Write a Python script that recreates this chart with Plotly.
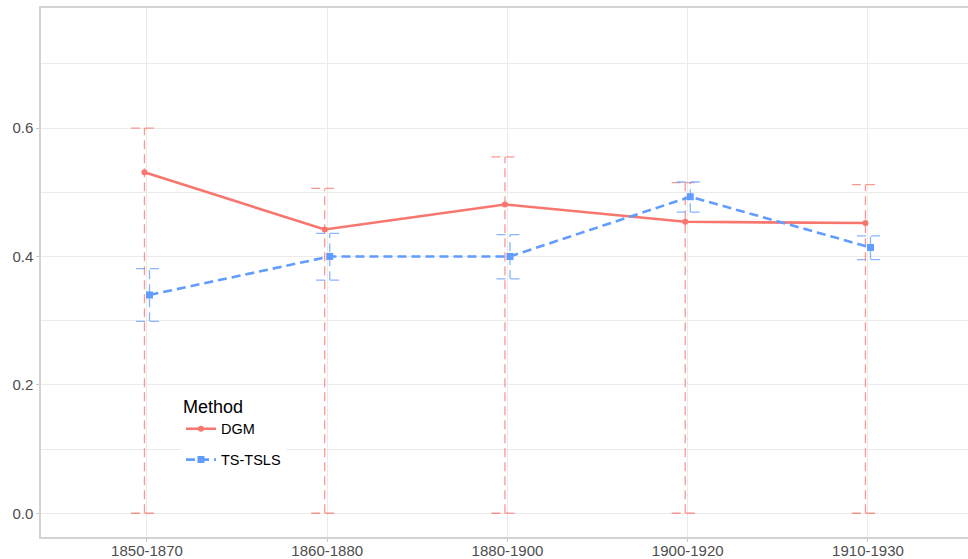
import plotly.graph_objects as go

periods = ["1850-1870", "1860-1880", "1880-1900", "1900-1920", "1910-1930"]

dgm_est = [0.531, 0.442, 0.481, 0.454, 0.452]
dgm_low = [0.0, 0.0, 0.0, 0.0, 0.0]
dgm_high = [0.600, 0.506, 0.555, 0.515, 0.512]

ts_est = [0.340, 0.400, 0.400, 0.493, 0.414]
ts_low = [0.299, 0.363, 0.365, 0.469, 0.395]
ts_high = [0.381, 0.436, 0.434, 0.516, 0.432]

red = "#F8766D"
blue = "#619CFF"
dodge = 0.014
cap = 0.075


def bar_path(xs, lo, hi):
    # vertical whisker plus two caps, separated by None
    px, py = [], []
    for x, l, h in zip(xs, lo, hi):
        px += [x, x, None, x - cap, x + cap, None, x - cap, x + cap, None]
        py += [l, h, None, l, l, None, h, h, None]
    return px, py


x_dgm = [i - dodge for i in range(len(periods))]
x_ts = [i + dodge for i in range(len(periods))]

fig = go.Figure()

ex, ey = bar_path(x_dgm, dgm_low, dgm_high)
fig.add_trace(go.Scatter(x=ex, y=ey, mode="lines", showlegend=False, hoverinfo="skip",
                         line=dict(color="rgba(248,118,109,0.75)", width=1.3, dash="9px,5px")))
ex, ey = bar_path(x_ts, ts_low, ts_high)
fig.add_trace(go.Scatter(x=ex, y=ey, mode="lines", showlegend=False, hoverinfo="skip",
                         line=dict(color="rgba(97,156,255,0.75)", width=1.3, dash="9px,5px")))

fig.add_trace(go.Scatter(x=x_dgm, y=dgm_est, mode="lines+markers", name="DGM", legendgroup="a",
                         line=dict(color=red, width=2.6),
                         marker=dict(color=red, size=6, symbol="circle")))
fig.add_trace(go.Scatter(x=x_ts, y=ts_est, mode="lines+markers", name="TS-TSLS", legendgroup="b",
                         line=dict(color=blue, width=2.6, dash="9px,5px"),
                         marker=dict(color=blue, size=7, symbol="square")))

fig.update_layout(
    width=968, height=559,
    margin=dict(l=41, r=0, t=8, b=22),
    plot_bgcolor="white", paper_bgcolor="white",
    font=dict(family="Liberation Sans, Arial, sans-serif", size=15, color="#4D4D4D"),
    legend=dict(
        x=0.151, y=0.279, xanchor="left", yanchor="top",
        bgcolor="white", traceorder="grouped", tracegroupgap=9,
        title=dict(text="Method", font=dict(size=18, color="black")),
        font=dict(size=14.5, color="black"), itemwidth=30,
    ),
)

fig.update_xaxes(
    range=[-0.588, 4.555], tickvals=list(range(len(periods))), ticktext=periods,
    showgrid=True, gridcolor="#EBEBEB", gridwidth=1, zeroline=False,
    showline=True, mirror=True, linecolor="#D3D3D3", linewidth=1.5,
    ticks="outside", ticklen=3, tickcolor="#C8C8C8", automargin=False,
    ticklabelstandoff=-4,
)
fig.update_yaxes(
    range=[-0.037, 0.787], tickvals=[0, 0.2, 0.4, 0.6], ticktext=["0.0", "0.2", "0.4", "0.6"],
    showgrid=True, gridcolor="#EBEBEB", gridwidth=1, zeroline=False,
    minor=dict(tickvals=[0.1, 0.3, 0.5, 0.7], showgrid=True, gridcolor="#EBEBEB", gridwidth=1, ticks=""),
    showline=True, linecolor="#D3D3D3", linewidth=1.5,
    ticks="outside", ticklen=3, tickcolor="#C8C8C8", automargin=False,
)

# page body has a default 8px margin; drop it so the figure sits at the window corner
fig.write_html("out.html", config={"displayModeBar": False},
               post_script="document.body.style.margin='0';")
